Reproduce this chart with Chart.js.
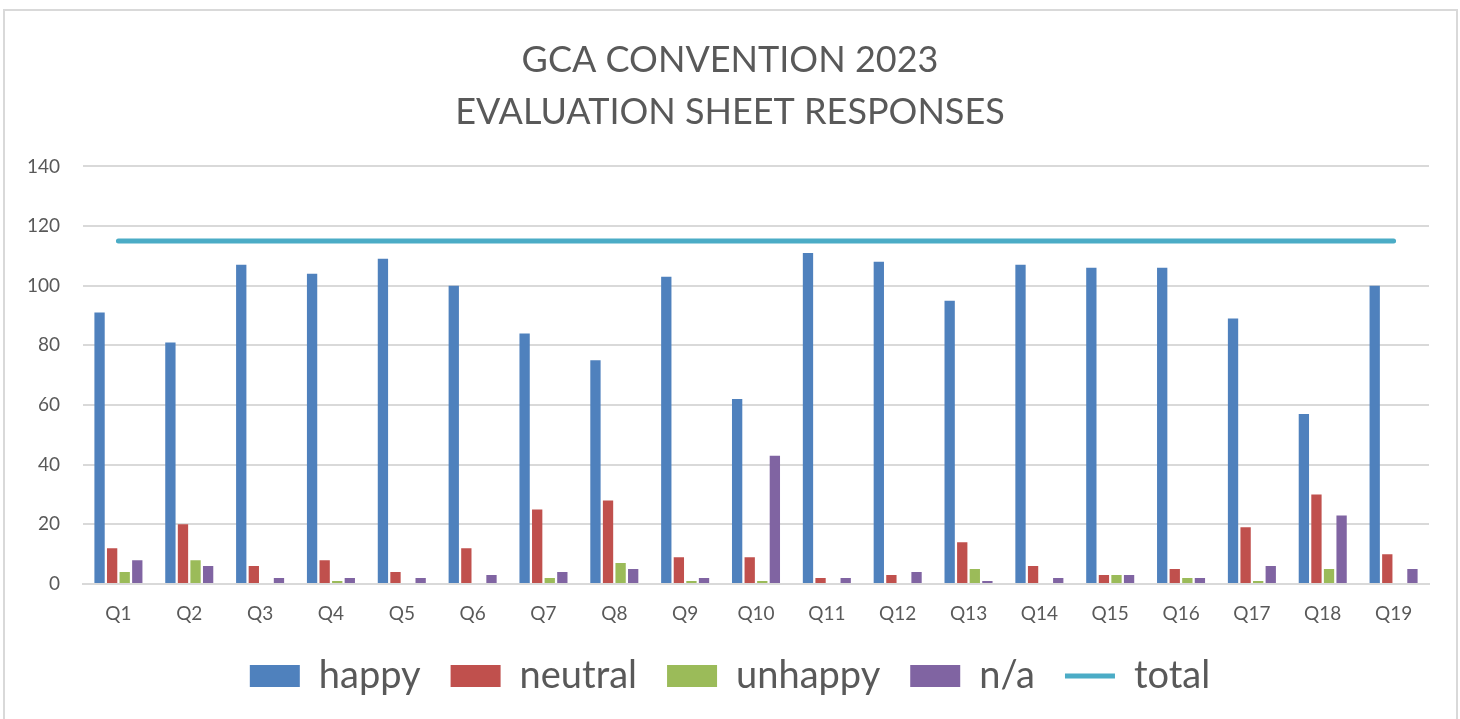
<!DOCTYPE html>
<html>
<head>
<meta charset="utf-8">
<script src="https://cdn.jsdelivr.net/npm/chart.js@4"></script>
<style>
  html, body { margin: 0; padding: 0; background: #fff; overflow: hidden; }
  #frame { position: absolute; left: 3px; top: 9px; width: 1451px; height: 740px; border: 2px solid #d9d9d9; }
  #wrap { position: absolute; left: 0; top: 0; width: 1460px; height: 719px; }
</style>
</head>
<body>
<div id="frame"></div>
<div id="wrap"><canvas id="evalChart"></canvas></div>
<script>
const questions = ['Q1', 'Q2', 'Q3', 'Q4', 'Q5', 'Q6', 'Q7', 'Q8', 'Q9', 'Q10',
                   'Q11', 'Q12', 'Q13', 'Q14', 'Q15', 'Q16', 'Q17', 'Q18', 'Q19'];
const happy   = [91, 81, 107, 104, 109, 100, 84, 75, 103, 62, 111, 108, 95, 107, 106, 106, 89, 57, 100];
const neutral = [12, 20, 6, 8, 4, 12, 25, 28, 9, 9, 2, 3, 14, 6, 3, 5, 19, 30, 10];
const unhappy = [4, 8, 0, 1, 0, 0, 2, 7, 1, 1, 0, 0, 5, 0, 3, 2, 1, 5, 0];
const notApplicable = [8, 6, 2, 2, 2, 3, 4, 5, 2, 43, 2, 4, 1, 2, 3, 2, 6, 23, 5];
const total   = [115, 115, 115, 115, 115, 115, 115, 115, 115, 115,
                 115, 115, 115, 115, 115, 115, 115, 115, 115];
const yTicks  = [0, 20, 40, 60, 80, 100, 120, 140];

const fontFamily = 'Lato, "Open Sans", sans-serif';
const textColor = '#595959';
const gridColor = '#d9d9d9';

function barSet(label, data, color) {
    return {
        type: 'bar',
        label: label,
        data: data,
        backgroundColor: color,
        borderWidth: 0,
        pointStyle: 'rect',
        categoryPercentage: 0.71,
        barPercentage: 0.82,
        order: 2
    };
}

// title and legend are centred on the page in the original, not on the plot
const centreShift = {
    id: 'centreShift',
    afterLayout: function(chart) {
        [chart.titleBlock, chart.legend].forEach(function(box) {
            if (!box) return;
            box.left += 14;
            box.right += 14;
        });
    }
};

document.addEventListener('DOMContentLoaded', function() {
    const ctx = document.getElementById('evalChart');

    new Chart(ctx, {
        data: {
            labels: questions,
            datasets: [
                barSet('happy', happy, '#4f81bd'),
                barSet('neutral', neutral, '#c0504d'),
                barSet('unhappy', unhappy, '#9bbb59'),
                barSet('n/a', notApplicable, '#8064a2'),
                {
                    type: 'line',
                    label: 'total',
                    data: total,
                    borderColor: '#4bacc6',
                    backgroundColor: '#4bacc6',
                    borderWidth: 5,
                    borderCapStyle: 'round',
                    pointRadius: 0,
                    pointStyle: 'line',
                    order: 1
                }
            ]
        },
        plugins: [centreShift],
        options: {
            responsive: true,
            maintainAspectRatio: false,
            animation: false,
            layout: {
                padding: { left: 3, right: 31, top: 14, bottom: 14 }
            },
            plugins: {
                title: {
                    display: true,
                    text: ['GCA CONVENTION 2023', 'EVALUATION SHEET RESPONSES'],
                    color: textColor,
                    font: { family: fontFamily, size: 36, weight: 'normal', lineHeight: 1.45 },
                    padding: { top: 20, bottom: 28 }
                },
                legend: {
                    position: 'bottom',
                    labels: {
                        usePointStyle: true,
                        pointStyleWidth: 50,
                        boxHeight: 22,
                        color: textColor,
                        padding: 30,
                        font: { family: fontFamily, size: 38 },
                        sort: function(a, b) { return a.datasetIndex - b.datasetIndex; }
                    }
                },
                tooltip: { enabled: false }
            },
            scales: {
                x: {
                    grid: { display: false },
                    border: { display: true, color: gridColor, width: 2 },
                    ticks: {
                        color: textColor,
                        padding: 10,
                        font: { family: fontFamily, size: 19 }
                    },
                    afterFit: function(scale) { scale.height = 43; }
                },
                y: {
                    min: 0,
                    max: 140,
                    afterBuildTicks: function(scale) {
                        scale.ticks = yTicks.map(v => ({ value: v }));
                    },
                    afterFit: function(scale) { scale.width = 80; },
                    grid: { color: gridColor, lineWidth: 2, drawTicks: false },
                    border: { display: false },
                    ticks: {
                        color: textColor,
                        padding: 23,
                        font: { family: fontFamily, size: 19 }
                    }
                }
            }
        }
    });
});
</script>
</body>
</html>
